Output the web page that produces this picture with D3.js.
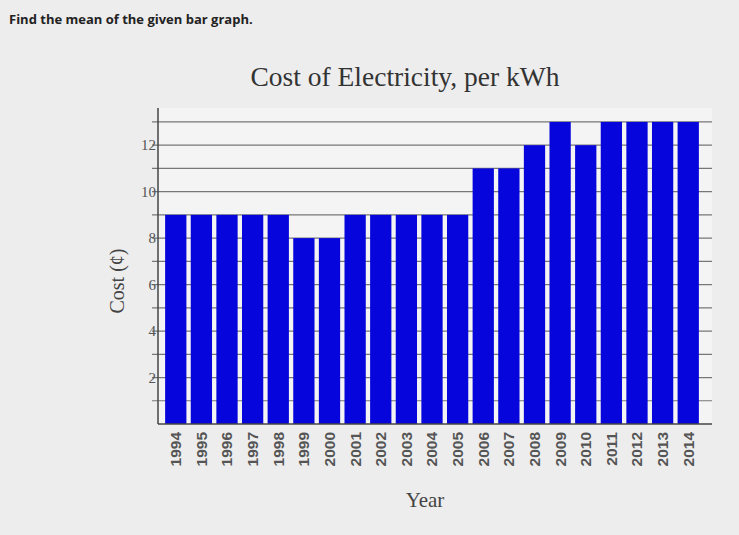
<!DOCTYPE html>
<html><head><meta charset="utf-8">
<script src="https://cdn.jsdelivr.net/npm/d3@7"></script>
<style>body{margin:0;background:#ededed;}svg{display:block;}</style>
</head><body>
<script>
const years = ["1994","1995","1996","1997","1998","1999","2000","2001","2002","2003","2004","2005","2006","2007","2008","2009","2010","2011","2012","2013","2014"];
const costs = [9,9,9,9,9,8,8,9,9,9,9,9,11,11,12,13,12,13,13,13,13];
const yTickLabels = [2,4,6,8,10,12];
const gridValues = [1,2,3,4,5,6,7,8,9,10,11,12,13];

(function(){
const W = 739, H = 535;
const svg = d3.select("body").append("svg").attr("width", W).attr("height", H);
svg.append("rect").attr("width", W).attr("height", H).attr("fill", "#ededed");

const pL = 158, pR = 712, pT = 108, pB = 424;
const x = d3.scaleBand().domain(years).range([pL + 2, pR - 8]).paddingInner(0.17).paddingOuter(0.2);
const y = d3.scaleLinear().domain([0, 13.6]).range([pB, pT]);

svg.append("rect").attr("x", pL).attr("y", pT).attr("width", pR - pL).attr("height", pB - pT).attr("fill", "#f4f4f4");

svg.append("g").selectAll("line").data(gridValues).join("line")
  .attr("x1", pL - 6).attr("x2", pR)
  .attr("y1", d => y(d)).attr("y2", d => y(d))
  .attr("stroke", "#777").attr("stroke-width", 1.2);

svg.append("g").selectAll("rect").data(years).join("rect")
  .attr("x", d => x(d)).attr("width", x.bandwidth())
  .attr("y", (d, i) => y(costs[i])).attr("height", (d, i) => y(0) - y(costs[i]))
  .attr("fill", "#0505dc");

svg.append("line").attr("x1", pL).attr("x2", pL).attr("y1", pT).attr("y2", pB).attr("stroke", "#444").attr("stroke-width", 1.5);
svg.append("line").attr("x1", pL).attr("x2", pR).attr("y1", pB).attr("y2", pB).attr("stroke", "#444").attr("stroke-width", 1.5);

svg.append("g").selectAll("text").data(yTickLabels).join("text")
  .attr("x", pL - 2).attr("y", d => y(d)).attr("dy", "0.35em")
  .attr("text-anchor", "end")
  .attr("font-family", "Liberation Serif, serif").attr("font-size", 15).attr("fill", "#555")
  .text(d => d);

const xAxis = d3.axisBottom(x).tickSize(0).tickPadding(8);
const gx = svg.append("g").attr("transform", `translate(0,${pB})`).call(xAxis);
gx.select(".domain").remove();
gx.selectAll("text")
  .attr("font-family", "Liberation Sans, Arial, sans-serif").attr("font-size", 15.5).attr("font-weight", "bold").attr("fill", "#555")
  .attr("transform", "rotate(-90)").attr("text-anchor", "end")
  .attr("x", -8).attr("y", 0).attr("dy", "0.35em");

svg.append("text").attr("x", 405).attr("y", 86).attr("text-anchor", "middle")
  .attr("font-family", "Liberation Serif, serif").attr("font-size", 27.5).attr("fill", "#333")
  .text("Cost of Electricity, per kWh");

svg.append("text").attr("transform", "translate(124,281) rotate(-90)").attr("text-anchor", "middle")
  .attr("font-family", "Liberation Serif, serif").attr("font-size", 20).attr("fill", "#444")
  .text("Cost (¢)");
svg.append("text").attr("x", 425).attr("y", 507).attr("text-anchor", "middle")
  .attr("font-family", "Liberation Serif, serif").attr("font-size", 21).attr("fill", "#444")
  .text("Year");

svg.append("text").attr("x", 9).attr("y", 24)
  .attr("font-family", "Open Sans, sans-serif").attr("font-size", 13).attr("font-weight", "bold").attr("fill", "#222")
  .text("Find the mean of the given bar graph.");
})();
</script>
</body></html>
